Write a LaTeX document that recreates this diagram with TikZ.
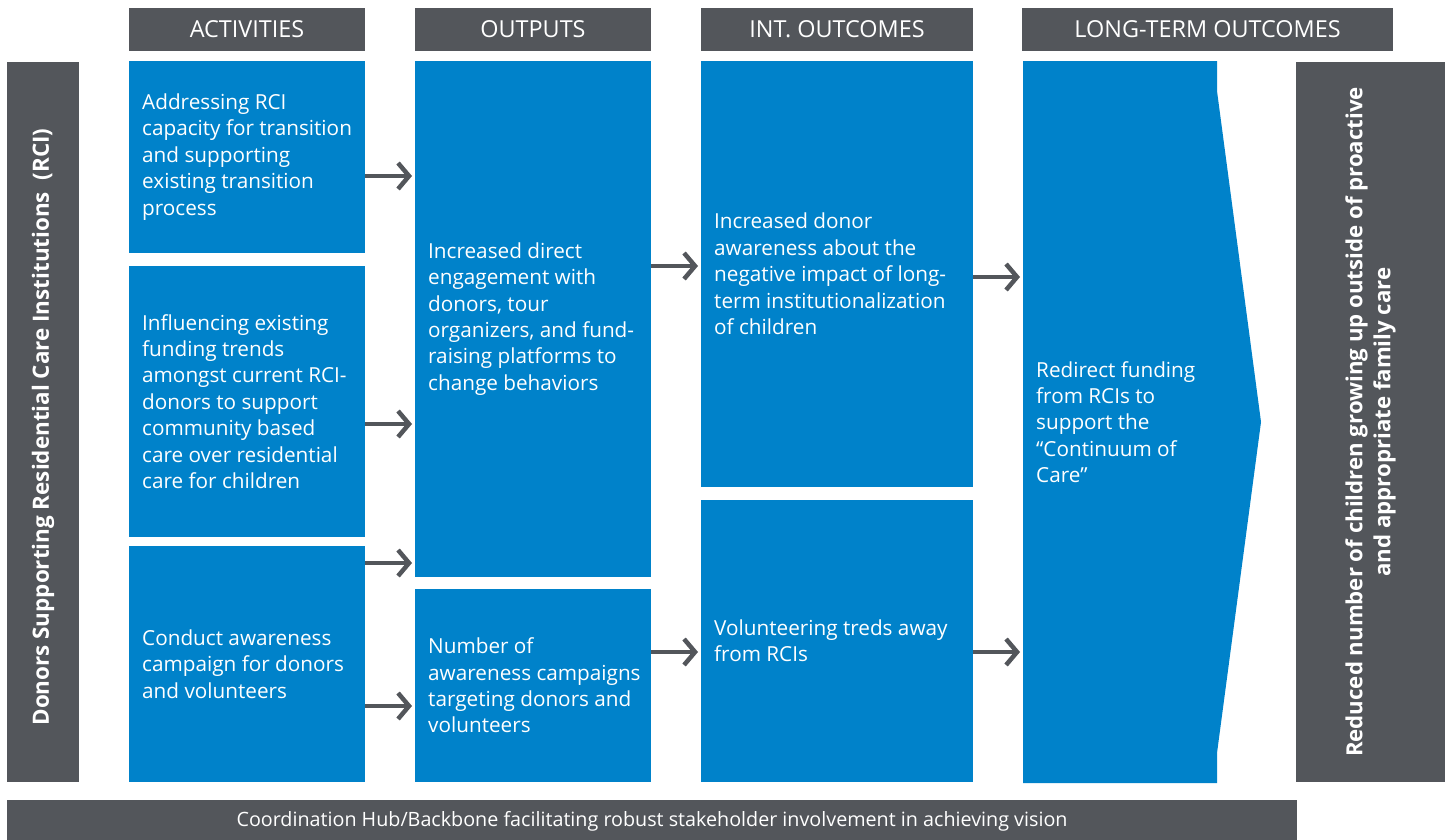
\documentclass[tikz,border=0pt]{standalone}
\usepackage{fontspec}
\setmainfont{Open Sans}
\usetikzlibrary{arrows.meta}
\definecolor{cblue}{RGB}{0,130,202}
\definecolor{cgrey}{RGB}{83,86,91}
\begin{document}
\begin{tikzpicture}[x=1bp,y=-1bp,
  box/.style={fill=cblue, draw=none, inner sep=0, outer sep=0, anchor=north west},
  gbox/.style={fill=cgrey, draw=none, inner sep=0, outer sep=0, anchor=north west, text=white},
  hdr/.style={gbox, font=\fontsize{23.5}{26}\selectfont, minimum height=43bp},
  txt/.style={text=white, font=\fontsize{20.8}{26.5}\selectfont, align=left, anchor=west, inner sep=0},
  arr/.style={draw=cgrey, line width=4.5bp, -{Straight Barb[length=11bp, width=26bp]}, shorten >=3bp}
]
\useasboundingbox (0,0) rectangle (1449,839);

% headers
\node[hdr, minimum width=236bp] (h1) at (129,8) {ACTIVITIES};
\node[hdr, minimum width=236bp] (h2) at (415,8) {OUTPUTS};
\node[hdr, minimum width=272bp] (h3) at (701,8) {INT. OUTCOMES};
\node[hdr, minimum width=371bp] (h4) at (1022,8) {LONG-TERM OUTCOMES};

% left and right grey bars
\node[gbox, minimum width=72bp, minimum height=720bp] (lft) at (7,62) {};
\node[text=white, rotate=90, font=\bfseries\fontsize{22.5}{26}\selectfont, inner sep=0] (lftt) at ([yshift=-5bp]lft.center) {Donors Supporting Residential Care Institutions\ \ (RCI)};
\node[gbox, minimum width=149bp, minimum height=720bp] (rgt) at (1296,62) {};
\node[text=white, rotate=90, align=center, font=\bfseries\fontsize{22.3}{28}\selectfont, inner sep=0] (rgtt) at (rgt.center) {Reduced number of children growing up outside of proactive\\and appropriate family care};

% bottom bar
\node[gbox, minimum width=1290bp, minimum height=42bp, font=\fontsize{19.8}{24}\selectfont] (bot) at (7,800) {Coordination Hub/Backbone facilitating robust stakeholder involvement in achieving vision};

% activities
\node[box, minimum width=236bp, minimum height=192bp] (a1) at (129,61) {};
\node[txt] (a1t) at ([xshift=13bp]a1.west) {Addressing RCI\\capacity for transition\\and supporting\\existing transition\\process};
\node[box, minimum width=236bp, minimum height=271bp] (a2) at (129,266) {};
\node[txt] (a2t) at ([xshift=13bp]a2.west) {Influencing existing\\funding trends\\amongst current RCI-\\donors to support\\community based\\care over residential\\care for children};
\node[box, minimum width=236bp, minimum height=236bp] (a3) at (129,546) {};
\node[txt] (a3t) at ([xshift=13bp]a3.west) {Conduct awareness\\campaign for donors\\and volunteers};

% outputs
\node[box, minimum width=236bp, minimum height=516bp] (o1) at (415,61) {};
\node[txt] (o1t) at ([xshift=13bp]o1.west) {Increased direct\\engagement with\\donors, tour\\organizers, and fund-\\raising platforms to\\change behaviors};
\node[box, minimum width=236bp, minimum height=193bp] (o2) at (415,589) {};
\node[txt] (o2t) at ([xshift=13bp]o2.west) {Number of\\awareness campaigns\\targeting donors and\\volunteers};

% intermediate outcomes
\node[box, minimum width=272bp, minimum height=426bp] (i1) at (701,61) {};
\node[txt] (i1t) at ([xshift=13bp]i1.west) {Increased donor\\awareness about the\\negative impact of long-\\term institutionalization\\of children};
\node[box, minimum width=272bp, minimum height=282bp] (i2) at (701,500) {};
\node[txt] (i2t) at ([xshift=13bp]i2.west) {Volunteering treds away\\from RCIs};

% long-term outcome (arrow-shaped)
\fill[cblue] (1023,61) -- (1217,61) -- (1217,91) -- (1261,422) -- (1217,753) -- (1217,783) -- (1023,783) -- cycle;
\coordinate (l1) at (1023,422);
\node[txt] (l1t) at ([xshift=13bp]l1) {Redirect funding\\from RCIs to\\support the\\``Continuum of\\Care''};

% arrows
\draw[arr] (a1.east |- 0,176) -- (o1.west |- 0,176);
\draw[arr] (a2.east |- 0,424) -- (o1.west |- 0,424);
\draw[arr] (a3.east |- 0,563) -- (o1.west |- 0,563);
\draw[arr] (a3.east |- 0,706) -- (o2.west |- 0,706);
\draw[arr] (o1.east |- 0,266) -- (i1.west |- 0,266);
\draw[arr] (o2.east |- 0,652) -- (i2.west |- 0,652);
\draw[arr] (i1.east |- 0,277) -- (l1 |- 0,277);
\draw[arr] (i2.east |- 0,652) -- (l1 |- 0,652);
\end{tikzpicture}
\end{document}
